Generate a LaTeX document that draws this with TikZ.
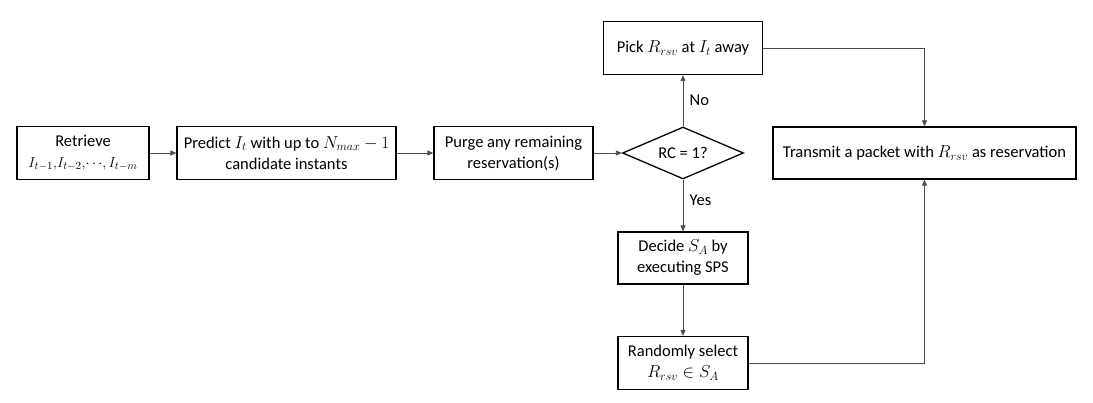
\documentclass[tikz,border=0pt]{standalone}
\usepackage{fontspec}
\setmainfont{Carlito}
\usetikzlibrary{shapes.geometric,arrows.meta}
\begin{document}
\begin{tikzpicture}[x=1pt,y=-1pt,
  box/.style={draw=black,line width=1.3pt,align=center,inner sep=0pt,font=\fontsize{16.5}{21}\selectfont},
  cond/.style={draw=black,line width=1.3pt,diamond,aspect=2.33,inner sep=0pt,font=\fontsize{16.5}{21}\selectfont},
  conn/.style={draw=black!70,line width=0.8pt,-{Triangle[length=6pt,width=5pt]}},
  lab/.style={font=\fontsize{16.5}{21}\selectfont}]
\useasboundingbox (0,0) rectangle (1093,403);
\node[box,minimum width=132pt,minimum height=53pt] (ret) at (83,153) {Retrieve\\{\fontsize{15}{21}\selectfont$I_{t-1},\!I_{t-2},\!\cdots\!,I_{t-m}$}};
\node[box,minimum width=219pt,minimum height=53pt] (pred) at (286.5,153) {Predict $I_t$ with up to $N_{max}-1$\\candidate instants};
\node[box,minimum width=159pt,minimum height=53pt] (purge) at (513.5,153) {Purge any remaining\\reservation(s)};
\node[cond,minimum width=121pt,minimum height=52pt] (rc) at (683,153) {RC = 1?};
\node[box,minimum width=159pt,minimum height=53pt] (pick) at (683,48) {Pick $R_{rsv}$ at $I_t$ away};
\node[box,minimum width=130pt,minimum height=52pt] (dec) at (683,258) {Decide $S_A$ by\\executing SPS};
\node[box,minimum width=130pt,minimum height=53pt] (rnd) at (683,363) {Randomly select\\$R_{rsv}\in S_A$};
\node[box,minimum width=303pt,minimum height=52pt] (tx) at (924.5,153) {Transmit a packet with $R_{rsv}$ as reservation};
\draw[conn] (ret) -- (pred);
\draw[conn] (pred) -- (purge);
\draw[conn] (purge) -- (rc);
\draw[conn] (rc) -- node[lab,right=3pt,pos=0.5] {No} (pick);
\draw[conn] (rc) -- node[lab,right=3pt,pos=0.4] {Yes} (dec);
\draw[conn] (dec) -- (rnd);
\draw[conn] (pick.east) -| (tx.north);
\draw[conn] (rnd.east) -| (tx.south);
\end{tikzpicture}
\end{document}
